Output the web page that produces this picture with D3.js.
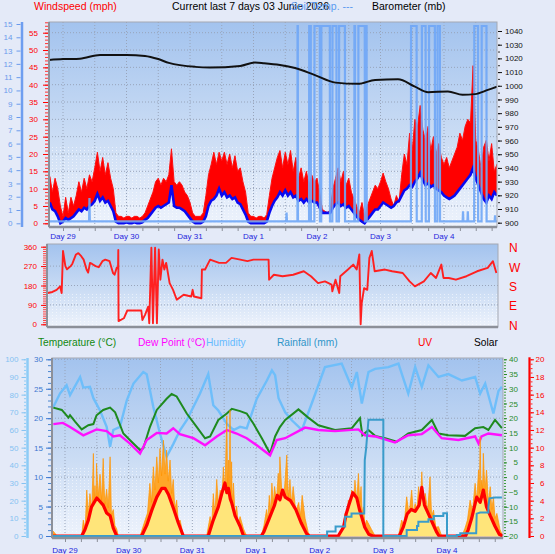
<!DOCTYPE html>
<html>
<head>
<meta charset="utf-8">
<script src="https://cdn.jsdelivr.net/npm/d3@7"></script>
<style>
  body { margin: 0; background: #E4EAF8; }
  svg { display: block; font-family: "Liberation Sans", Arial, sans-serif; }
</style>
</head>
<body>
<svg id="chart" width="555" height="554"></svg>
<script>
// ---- data (hours counted from Day 29 00:00) ----
const dayLabels = ["Day 29", "Day 30", "Day 31", "Day 1", "Day 2", "Day 3", "Day 4"];
const dayHours = [0, 24, 48, 72, 96, 120, 144];

// wind, one sample per hour starting at hour -5
const windStart = -5;
const gustMph = [
  13.5, 9, 13, 10, 5, 2, 7.5, 3, 7.5, 5,
  8, 12, 9, 13, 10, 14, 12, 16, 20.5, 15,
  19, 14, 17.5, 13, 10, 3, 2, 2, 1.5, 2,
  2, 1.5, 2, 2, 1.5, 2, 3, 5, 7, 9,
  12, 13, 11, 13, 12, 14, 21.5, 12, 11, 12,
  11, 9, 8, 6, 3, 2, 2, 2, 3, 8,
  14, 17, 20.5, 17, 20.5, 18, 20.5, 17, 20, 16,
  19.5, 15, 16, 12, 9, 3, 2, 2, 1.5, 2,
  2, 1.5, 2.5, 8, 13, 16, 19, 21, 16, 20.5,
  17, 21, 15, 19, 13, 16, 12, 15, 11, 14,
  12, 13, 9, 4, 3.5, 3, 4, 10, 13, 16,
  12, 15, 11, 13, 9, 7, 5, 3, 6, 2,
  5, 7, 9, 11, 10, 12, 14.5, 12, 10, 7,
  5, 8, 6, 14, 20, 17, 26, 21, 30, 28,
  34, 27, 24, 28, 21, 25, 20, 23, 19, 17,
  19, 16, 18, 20, 22, 26, 24, 28, 30, 29,
  45.5, 24, 21, 16, 22, 24, 18, 23, 15, 17
];
const avgMph = [
  6, 4, 3.5, 2, 0, 0.5, 1.5, 1, 1.5, 2,
  3, 4, 3.5, 4.5, 4, 5, 5.5, 6.5, 8.5, 6.5,
  7.5, 6, 6.5, 5, 3.5, 0.5, 0, 0, 0, 0.3,
  0, 0, 0.3, 0, 0, 0.3, 1, 1.5, 2.5, 3.5,
  4.5, 5, 4.5, 5, 5.5, 6, 11, 5, 4.5, 4.5,
  4, 3.5, 2.5, 1.5, 0.5, 0, 0, 0, 0.5, 2,
  5, 6.5, 7, 8, 10, 8, 9, 7.5, 8, 7,
  7.5, 6, 5.5, 4, 2.5, 0.5, 0, 0, 0, 0,
  0, 0, 0.5, 3, 5, 6.5, 7.5, 9, 8, 9.5,
  8, 9, 7.5, 8, 6.5, 7, 6, 7, 6, 6.5,
  6, 6, 4.5, 3, 3, 3, 3, 4.5, 5.5, 6,
  5, 5.5, 4.5, 5, 4, 3, 2, 1, 0.5, 0,
  1, 2, 3, 4, 4, 5, 6, 5.5, 5, 4.5,
  5, 6, 6.5, 8, 9.5, 10, 11, 10.5, 12, 13,
  14.5, 12.5, 11, 11.5, 10.5, 11, 10, 9.5, 9, 8,
  7.5, 7, 7.5, 8, 9, 10, 11, 12, 13, 14,
  16, 13, 11, 9, 7, 6, 8, 7, 9, 8
];
const baroMb = [
  [-5.3, 1018.9], [0, 1019.5], [6.4, 1019.8], [14, 1022.5], [24, 1022.5], [31, 1021.8],
  [36, 1019.5], [40, 1016.7], [50, 1013.8], [55.5, 1013.4], [67, 1014.5], [72.5, 1017],
  [76, 1016.5], [82, 1015.2], [87.7, 1013], [95, 1008], [103, 1002.3], [111.5, 1001.4],
  [118, 1004.3], [126.6, 1004.8], [133, 999.4], [138, 995.3], [145.5, 995.8], [151, 993.4],
  [155.7, 993.9], [160.6, 997], [164, 999.4]
];
// light blue series (left 0-15 axis): spells at the top, small blips otherwise
const soilBase = 0.15;
const soilTop = 14.85;
const soilHigh = [
  [88.6, 88.8], [93.0, 93.7], [95.0, 97.1], [97.6, 100.9], [101.8, 103.4], [104.3, 106.6],
  [110.1, 110.4], [111.6, 114.1], [114.5, 114.8], [131.5, 133.7], [135.6, 137.1], [138.3, 140.6],
  [141.5, 142.5], [155.4, 156.9], [158.2, 160.1]
];
const soilBlips = [[10, 1.9], [84.5, 0.8], [151.2, 0.9], [153, 0.9], [163.3, 0.6]];

// wind direction, degrees
const dirDeg = [
  [-5.8, 145], [-4, 150], [-2.4, 160], [-1.1, 176], [-0.5, 145], [0, 340], [0.9, 270], [1.5, 255],
  [2.9, 270], [3.5, 280], [4.9, 324], [5.8, 330], [6.9, 316], [7.8, 300], [8.9, 254], [9.5, 240],
  [10.2, 285], [11, 280], [12.3, 270], [13.5, 265], [14.9, 293], [16, 300], [17.6, 293], [18.9, 238],
  [19.5, 230], [20.3, 262], [20.8, 262], [20.9, 345], [21, 15], [23, 28], [24.3, 64], [29.6, 64],
  [30, 20], [31, 44], [32.2, 82], [32.6, 5], [33.4, 355], [34, 5], [34.8, 355], [35.5, 5],
  [36.2, 347], [36.8, 207], [37.6, 300], [38.3, 254], [39, 285], [40.3, 191], [41.6, 160], [43, 114],
  [45.6, 137], [48.5, 129], [49, 160], [49.5, 129], [52.3, 121], [52.5, 254], [53.7, 254], [55.6, 300],
  [59, 285], [61.6, 285], [63.7, 308], [67, 300], [69.7, 293], [72, 300], [77.7, 300], [77.9, 207],
  [79.7, 230], [83, 223], [87, 230], [91, 246], [93.7, 223], [96.4, 191], [99, 199], [101.5, 184],
  [101.8, 153], [103, 207], [104.4, 145], [104.8, 223], [107.7, 254], [109.7, 277], [111, 254], [112, 324],
  [112.5, 0], [112.9, 98], [113.8, 168], [115, 160], [115.8, 308], [116.7, 340], [117.8, 246], [121.7, 254],
  [124.4, 246], [128.4, 238], [131, 199], [133, 176], [136.4, 199], [139, 238], [141, 215], [143, 277],
  [143.8, 215], [145.8, 215], [148.5, 207], [152.5, 223], [156.5, 246], [160.5, 262], [162.5, 293], [163.8, 238]
];

// bottom panel
const tempC = [
  [-4.4, 21.8], [-1.2, 21.4], [1.3, 20.1], [1.9, 20.5], [3.8, 19.4], [6.3, 18.1], [8.8, 18.8], [10.7, 19],
  [11.9, 20.5], [14.4, 21.4], [17, 21.8], [18.9, 21], [22, 17.4], [25.1, 16], [28.3, 14.6], [29.5, 14.9],
  [32, 18.5], [34.6, 21.4], [38.3, 23.3], [40.2, 24.1], [42.1, 23.7], [45.9, 20.8], [49.7, 18.5], [52.8, 16.6],
  [54.7, 16.9], [57.8, 19.7], [61, 20.8], [62.9, 21.6], [66, 21.2], [68.5, 20.8], [71, 19.1], [74.2, 16.6],
  [77.3, 14], [79.2, 16.9], [81, 18.5], [83, 19.7], [88, 21.5], [91.7, 20.1], [95.5, 18.8], [101.8, 18],
  [108.1, 18.3], [111.2, 20], [112.1, 17.1], [114.4, 18], [116.9, 17], [120.7, 16.6], [125.1, 16], [129.4, 17.4],
  [134.5, 18], [138.3, 19.7], [140.8, 17.4], [144.5, 17.1], [150.8, 17], [154.6, 18.3], [157.7, 18.5], [159.6, 18],
  [162.1, 19.7], [164.7, 18.3]
];
const dewC = [
  [-4.4, 19], [-0.8, 19.2], [1.9, 18.5], [6.9, 17.1], [11.9, 18.1], [15.7, 17.8], [18.2, 16.9], [20.7, 17.1],
  [24.5, 15.7], [28.3, 14], [30.8, 16.3], [34.6, 17.5], [38.3, 17.4], [40.8, 18.3], [43.3, 17.3], [48.4, 16.6],
  [52.8, 15.4], [57.2, 16.9], [61, 18], [64.7, 17.4], [68.5, 16.6], [72.3, 15.4], [77.3, 13.7], [79.8, 16.3],
  [83, 16.6], [90.5, 18.4], [95.5, 18], [101.8, 17.8], [110.6, 18.1], [113.1, 17.1], [116.9, 16.9], [124.4, 15.9],
  [129.4, 17.1], [134.5, 17.3], [138.3, 18.5], [142, 16.6], [148.3, 16.3], [154.6, 16.9], [155.9, 15.7], [157, 16.9],
  [159.6, 17.4], [164.7, 17.1]
];
const humPct = [
  [-4.4, 73], [-1.9, 80.6], [0.6, 85.3], [1.9, 79.7], [5.7, 90], [6.9, 84], [9.4, 84.4], [10.7, 78],
  [13.2, 71], [15.7, 61.8], [17, 50.5], [18.2, 60], [20.7, 61.8], [23.3, 76.8], [25.8, 86.3], [29.5, 92.8],
  [30.8, 91.6], [33.3, 73], [35.8, 58], [38.3, 44.8], [40.8, 52], [43.4, 60], [45.9, 65.5], [50.9, 80.6],
  [54, 91.6], [55.9, 74], [57.8, 71], [61, 63.5], [63.5, 60], [66, 61.8], [68.5, 60.9], [72.3, 77.7],
  [76.1, 88], [78, 93.7], [79.2, 91], [80.5, 78], [83, 70], [85.5, 65.5], [89.3, 60], [93, 75],
  [98, 95.6], [104.3, 97.6], [108.1, 84], [110, 92.8], [111.9, 75], [114.4, 92.8], [116.9, 94.6], [121.9, 95.6],
  [125.7, 97.6], [129.4, 80.6], [132, 95.6], [134.5, 84.4], [137, 96.6], [140.8, 90], [144.5, 91.6], [149.6, 88],
  [154.6, 90], [156.5, 80.6], [158.4, 86.3], [161.5, 69.3], [163.4, 82], [164.7, 84.4]
];
const rainMm = [
  [-5, 0], [98.8, 0], [98.8, 1.5], [102, 1.5], [102, 3.2], [105.6, 3.2], [105.6, 6.5], [108, 6.5],
  [108, 7.6], [112.8, 7.6], [113, 25.8], [113.5, 29.7], [114.4, 39.5], [120, 39.5], [120, 0], [128.8, 0],
  [128.8, 2], [132.7, 2], [132.7, 3.4], [133.2, 3.4], [133.2, 4.8], [137, 4.8], [137, 5.7], [139, 5.7],
  [139, 6.8], [142.6, 6.8], [142.6, 7.7], [144, 7.7], [144, 0], [147.7, 0], [147.7, 0.3], [149, 0.3],
  [149, 0.9], [155, 0.9], [155.2, 7.6], [156.5, 8], [159.6, 8], [159.6, 9.9], [160, 12.8], [162.1, 13.1],
  [164.7, 13.1]
];
const uvIdx = [
  [-5, 0], [6.3, 0], [7.5, 0.7], [8.8, 1.8], [10, 3.3], [11, 3.8], [12, 4.3], [13.2, 3.9], [14.4, 3.5], [15.7, 2.6],
  [17, 2.3], [18.2, 0.9], [19.5, 0], [28.9, 0], [30.8, 1.2], [32.7, 2.9], [34.6, 4.4], [36.5, 5.4],
  [37.7, 5.4], [39, 4.7], [40.8, 3.2], [42.7, 1.5], [44.6, 0], [54, 0], [55.9, 1.8], [57.8, 3.3],
  [59.1, 4.8], [60.3, 6], [61, 4.9], [61.6, 5.4], [62.3, 4.2], [62.9, 3.7], [64.1, 2.3], [66, 1.1], [67.3, 0], [74, 0],
  [75, 0.5], [77, 2], [79, 3.5], [80, 4.6], [81, 4.1], [82, 5.2], [83, 4.4], [85, 4], [87, 3], [89, 1.5], [91, 0.3], [92, 0],
  [103, 0], [105, 1], [106, 2.5], [107, 3.5], [108.5, 4.9], [110, 4.3], [111, 3], [112, 2], [113, 1],
  [114.5, 0.2], [116, 0], [126, 0], [127.5, 1], [129, 2.5], [130.5, 3], [132, 2.8], [133.5, 3.5],
  [134.5, 5.5], [135.5, 3.5], [137, 2.5], [138.5, 1.5], [140, 0.5], [141, 0], [151, 0], [152, 0.7],
  [153.3, 2], [155.2, 4.4], [156.5, 3.8], [157.7, 5.2], [158.9, 3.3], [160.3, 2.3], [162.1, 1.1], [163.7, 0.2], [165, 0]
];
const solarWm2 = [
  [-5.3, 40], [-4, 20], [-3, 0], [6.3, 0], [6.9, 90], [7.6, 40], [8.2, 260], [8.8, 120], [9.4, 240],
  [10.1, 150], [10.7, 467], [11.0, 200], [11.3, 285], [11.6, 180], [11.9, 410], [12.5, 220], [13.2, 350],
  [13.8, 200], [14.4, 439], [15, 180], [15.7, 265], [16.3, 160], [17, 448], [17.5, 120], [18.2, 150],
  [18.8, 60], [19.5, 40], [20.1, 0],
  [28.3, 0], [30.2, 90], [31.1, 130], [32, 298], [32.6, 190], [33.3, 392], [33.9, 260], [34.6, 448],
  [35.2, 300], [35.8, 495], [36.4, 340], [37.1, 542], [37.7, 350], [38.3, 486], [38.9, 310], [39.6, 430],
  [40.2, 240], [40.8, 320], [41.4, 150], [42.1, 203], [42.7, 80], [43.4, 90], [44.6, 0],
  [53.4, 0], [54.7, 110], [55.3, 60], [55.9, 240], [56.5, 120], [57.2, 320], [57.8, 180], [58.5, 260],
  [59.1, 200], [59.7, 390], [60.3, 260], [61, 680], [61.3, 280], [61.6, 430], [61.9, 260], [62.2, 712],
  [62.5, 240], [62.8, 420], [63.1, 180], [63.5, 300], [64.1, 120], [64.7, 170], [65.3, 70], [66, 110],
  [67.3, 40], [68.5, 0],
  [74, 0], [75, 60], [76, 150], [76.5, 90], [77, 230], [77.5, 140], [78, 300], [78.5, 180], [79, 280],
  [79.7, 200], [80.4, 355], [80.7, 220], [81, 448], [81.9, 203], [82.7, 260], [83.6, 458], [84.2, 220],
  [84.8, 320], [85.4, 180], [86, 280], [87, 140], [88.1, 190], [88.7, 110], [89.4, 230], [90.5, 100],
  [91.7, 20], [92.5, 0],
  [104.3, 0], [105.6, 128], [106.2, 80], [106.8, 203], [107.4, 120], [108.1, 260], [108.7, 160],
  [109.3, 316], [110, 200], [110.6, 354], [111.1, 190], [111.6, 280], [112, 130], [112.5, 165],
  [113.1, 60], [113.7, 90], [115.6, 36], [116.9, 0],
  [125.7, 0], [126.9, 90], [127.8, 60], [128.8, 222], [129.7, 120], [130.7, 260], [131.3, 130],
  [132, 184], [132.6, 140], [133.3, 279], [133.9, 160], [134.5, 363], [135.1, 150], [135.8, 241],
  [136.7, 140], [137.6, 335], [138.2, 110], [138.9, 147], [139.8, 50], [140.8, 53], [142, 0],
  [149.6, 0], [150.8, 45], [151.7, 90], [152.7, 203], [153.6, 140], [154.6, 298], [155.2, 200],
  [155.9, 373], [156.2, 240], [156.5, 560], [156.8, 250], [157.1, 316], [157.4, 260], [157.7, 468],
  [158.3, 250], [158.9, 373], [159.6, 190], [160.3, 279], [160.9, 150], [161.5, 222], [162.1, 100],
  [162.8, 128], [164, 36], [165, 0]
];

// tick labels
const windTicks = [0, 5, 10, 15, 20, 25, 30, 35, 40, 45, 50, 55];
const soilTicks = [0, 1, 2, 3, 4, 5, 6, 7, 8, 9, 10, 11, 12, 13, 14, 15];
const baroTicks = [900, 910, 920, 930, 940, 950, 960, 970, 980, 990, 1000, 1010, 1020, 1030, 1040];
const dirTicks = [0, 90, 180, 270, 360];
const compass = ["N", "E", "S", "W", "N"];
const tempTicks = [0, 5, 10, 15, 20, 25, 30];
const humTicks = [0, 10, 20, 30, 40, 50, 60, 70, 80, 90, 100];
const greenTicks = [-20, -15, -10, -5, 0, 5, 10, 15, 20, 25, 30, 35, 40];
const uvTicks = [0, 2, 4, 6, 8, 10, 12, 14, 16, 18, 20];

// ---- layout ----
const P1 = { l: 49, r: 497, t: 22, b: 227 };
const P2 = { l: 47, r: 498, t: 244, b: 327 };
const P3 = { l: 52, r: 503, t: 358, b: 538 };
const FONT = '"Liberation Sans", Arial, sans-serif';

const x1 = d3.scaleLinear().domain([0, 144]).range([63, 444]);
const x3 = d3.scaleLinear().domain([0, 144]).range([65, 447]);
const windY = d3.scaleLinear().domain([0, 55]).range([223.3, 32.7]);
const soilY = d3.scaleLinear().domain([0, 15]).range([223.3, 24]);
const baroY = d3.scaleLinear().domain([900, 1040]).range([222.7, 31]);
const dirY = d3.scaleLinear().domain([0, 360]).range([324.3, 246.7]);
const tempY = d3.scaleLinear().domain([0, 30]).range([536, 359.3]);
const humY = d3.scaleLinear().domain([0, 100]).range([536, 359.3]);
const grnY = d3.scaleLinear().domain([-20, 40]).range([536, 359.3]);
const uvY = d3.scaleLinear().domain([0, 20]).range([536, 359.3]);
const rainY = d3.scaleLinear().domain([0, 60]).range([536, 359.3]);
const solarY = d3.scaleLinear().domain([0, 1000]).range([536, 359.3]);

const svg = d3.select("#chart");
const defs = svg.append("defs");

const grad = defs.append("linearGradient").attr("id", "plotBg")
  .attr("x1", 0).attr("y1", 0).attr("x2", 0).attr("y2", 1);
grad.append("stop").attr("offset", "0%").attr("stop-color", "#A3C3EE");
grad.append("stop").attr("offset", "55%").attr("stop-color", "#CADCF4");
grad.append("stop").attr("offset", "100%").attr("stop-color", "#EEF3FC");

const dots = defs.append("pattern").attr("id", "dots")
  .attr("width", 4).attr("height", 3).attr("patternUnits", "userSpaceOnUse");
dots.append("rect").attr("width", 1).attr("height", 1).attr("fill", "#fff");

// plot background + clip, returns group for data
function plotArea(id, P) {
  defs.append("clipPath").attr("id", id)
    .append("rect").attr("x", P.l).attr("y", P.t).attr("width", P.r - P.l).attr("height", P.b - P.t);
  svg.append("rect").attr("x", P.l).attr("y", P.t).attr("width", P.r - P.l).attr("height", P.b - P.t)
    .attr("fill", "url(#plotBg)");
  const h = P.b - P.t;
  svg.append("rect").attr("x", P.l).attr("y", P.t + h * 0.6).attr("width", P.r - P.l).attr("height", h * 0.4)
    .attr("fill", "url(#dots)").attr("opacity", 0.55);
  return svg.append("g").attr("clip-path", `url(#${id})`);
}

function gridLines(g, P, ys, xs) {
  g.selectAll(null).data(ys).join("line")
    .attr("x1", P.l).attr("x2", P.r).attr("y1", d => d).attr("y2", d => d)
    .attr("stroke", "#98A4BA").attr("stroke-width", 1).attr("stroke-dasharray", "1,2");
  g.selectAll(null).data(xs).join("line")
    .attr("x1", d => d).attr("x2", d => d).attr("y1", P.t).attr("y2", P.b)
    .attr("stroke", "#98A4BA").attr("stroke-width", 1).attr("stroke-dasharray", "1,2");
}

function frame(P) {
  svg.append("rect").attr("x", P.l).attr("y", P.t).attr("width", P.r - P.l).attr("height", P.b - P.t)
    .attr("fill", "none").attr("stroke", "#A4A8B2").attr("stroke-width", 1);
  svg.append("line").attr("x1", P.l).attr("x2", P.r).attr("y1", P.b).attr("y2", P.b)
    .attr("stroke", "#8C9099").attr("stroke-width", 2.5);
  svg.append("line").attr("x1", P.l).attr("x2", P.l).attr("y1", P.t).attr("y2", P.b)
    .attr("stroke", "#8C9099").attr("stroke-width", 2);
}

function styleAxis(g, color, size) {
  g.attr("font-size", size || 8).attr("font-family", FONT);
  g.select(".domain").remove();
  g.selectAll("line").attr("stroke", color);
  g.selectAll("text").attr("fill", color);
  return g;
}

function addAxis(gen, tx, ty, color, size) {
  return styleAxis(svg.append("g").attr("transform", `translate(${tx},${ty})`).call(gen), color, size);
}

const twelveHours = [0, 12, 24, 36, 48, 60, 72, 84, 96, 108, 120, 132, 144, 156];
const sixHours = d3.range(0, 168, 6);

// ================= panel 1: wind / barometer =================
const g1 = plotArea("clip1", P1);
gridLines(g1, P1, windTicks.slice(1).map(windY), twelveHours.map(x1));

const windData = gustMph.map((v, i) => ({ h: windStart + i, gust: v, avg: avgMph[i] }));

g1.append("path").datum(windData)
  .attr("d", d3.area().x(d => x1(d.h)).y0(d => windY(d.avg)).y1(d => windY(d.gust)))
  .attr("fill", "#FF0000").attr("stroke", "#FF1010").attr("stroke-width", 1);

g1.append("path").datum(windData)
  .attr("d", d3.line().x(d => x1(d.h)).y(d => windY(d.avg)))
  .attr("fill", "none").attr("stroke", "#0A0AF0").attr("stroke-width", 2.6);

// light blue spells
const soilPts = [[-6, soilBase]];
const ev = [];
soilHigh.forEach(([a, b]) => ev.push([a, soilBase], [a + 0.05, soilTop], [b - 0.05, soilTop], [b, soilBase]));
soilBlips.forEach(([h, v]) => ev.push([h - 0.15, soilBase], [h, v], [h + 0.15, soilBase]));
ev.sort((p, q) => p[0] - q[0]);
soilPts.push(...ev, [166, soilBase]);

g1.append("path").datum(soilPts)
  .attr("d", d3.line().x(d => x1(d[0])).y(d => soilY(d[1])))
  .attr("fill", "none").attr("stroke", "#6FA6F6").attr("stroke-width", 2.2).attr("opacity", 0.9);

g1.append("path").datum(baroMb)
  .attr("d", d3.line().curve(d3.curveMonotoneX).x(d => x1(d[0])).y(d => baroY(d[1])))
  .attr("fill", "none").attr("stroke", "#111").attr("stroke-width", 2);

frame(P1);

// axes panel 1
addAxis(d3.axisLeft(windY).tickValues(d3.range(0, 59, 1)).tickSize(3).tickFormat(""), P1.l - 1, 0, "#FF3030");
addAxis(d3.axisLeft(windY).tickValues(windTicks).tickSize(5).tickPadding(5), P1.l - 1, 0, "#FF0000");

svg.append("line").attr("x1", 22).attr("x2", 22).attr("y1", P1.t).attr("y2", P1.b)
  .attr("stroke", "#6E9EF0").attr("stroke-width", 2.5);
addAxis(d3.axisLeft(soilY).tickValues(soilTicks).tickSize(4).tickPadding(4), 20.5, 0, "#6A9AEC");

addAxis(d3.axisRight(baroY).tickValues(d3.range(900, 1041, 5)).tickSize(2).tickFormat(""), P1.r + 1, 0, "#333");
addAxis(d3.axisRight(baroY).tickValues(baroTicks).tickSize(4).tickPadding(3).tickFormat(d3.format("d")), P1.r + 1, 0, "#111");

addAxis(d3.axisBottom(x1).tickValues(sixHours).tickSize(3).tickFormat(""), 0, P1.b + 1, "#8C9099");
svg.append("g").selectAll("text").data(dayHours).join("text")
  .attr("x", d => x1(d)).attr("y", 239).attr("text-anchor", "middle")
  .attr("font-size", 8).attr("fill", "#1E1EDC").text((d, i) => dayLabels[i]);

// header texts
svg.append("text").attr("x", 34).attr("y", 10).attr("font-size", 10.5).attr("fill", "#FF0000").text("Windspeed (mph)");
svg.append("text").attr("x", 172).attr("y", 10).attr("font-size", 10.5).attr("fill", "#000").text("Current last 7 days 03 Junie 2026");
svg.append("text").attr("x", 353).attr("y", 10).attr("text-anchor", "end").attr("font-size", 10.5).attr("fill", "#5B9BF0").text("Soil Temp. ---");
svg.append("text").attr("x", 372).attr("y", 10).attr("font-size", 10.5).attr("fill", "#000").text("Barometer (mb)");

// ================= panel 2: wind direction =================
const g2 = plotArea("clip2", P2);
gridLines(g2, P2, dirTicks.slice(1, 4).map(dirY), []);

g2.append("path").datum(dirDeg)
  .attr("d", d3.line().x(d => x1(d[0])).y(d => dirY(d[1])))
  .attr("fill", "none").attr("stroke", "#FF2020").attr("stroke-width", 1.9).attr("stroke-linejoin", "round");

frame(P2);
addAxis(d3.axisLeft(dirY).tickValues(d3.range(0, 361, 10)).tickSize(3).tickFormat(""), P2.l - 1, 0, "#FF4040");
addAxis(d3.axisLeft(dirY).tickValues(dirTicks).tickSize(5).tickPadding(4), P2.l - 1, 0, "#FF0000");
svg.append("g").selectAll("text").data(dirTicks).join("text")
  .attr("x", 509).attr("y", d => dirY(d) + 5.5).attr("font-size", 12).attr("fill", "#FF0000")
  .text((d, i) => compass[i]);

// ================= panel 3: temperature etc =================
const g3 = plotArea("clip3", P3);
gridLines(g3, P3, tempTicks.slice(1).map(tempY), twelveHours.map(x3));

const lineOf = (yS) => d3.line().x(d => x3(d[0])).y(d => yS(d[1]));

g3.append("path").datum(humPct).attr("d", lineOf(humY))
  .attr("fill", "none").attr("stroke", "#6EBEFA").attr("stroke-width", 2.4);
g3.append("path").datum(tempC).attr("d", lineOf(tempY))
  .attr("fill", "none").attr("stroke", "#1E8A1E").attr("stroke-width", 2);
g3.append("path").datum(dewC).attr("d", lineOf(tempY))
  .attr("fill", "none").attr("stroke", "#FF10FF").attr("stroke-width", 2.4);

g3.append("path").datum(solarWm2)
  .attr("d", d3.area().x(d => x3(d[0])).y0(solarY(0)).y1(d => solarY(d[1])))
  .attr("fill", "#FFA628").attr("stroke", "#FF9400").attr("stroke-width", 0.7);

g3.append("path").datum(uvIdx)
  .attr("d", d3.area().x(d => x3(d[0])).y0(uvY(0)).y1(d => uvY(d[1])))
  .attr("fill", "#FFE57A");
g3.append("path").datum(uvIdx).attr("d", lineOf(uvY))
  .attr("fill", "none").attr("stroke", "#FF0000").attr("stroke-width", 3.2).attr("stroke-linejoin", "round");

g3.append("path").datum(rainMm).attr("d", lineOf(rainY))
  .attr("fill", "none").attr("stroke", "#3A9CCB").attr("stroke-width", 2);

frame(P3);

addAxis(d3.axisLeft(tempY).tickValues(d3.range(0, 31, 1)).tickSize(3).tickFormat(""), P3.l - 1, 0, "#4A86D0");
addAxis(d3.axisLeft(tempY).tickValues(tempTicks).tickSize(5).tickPadding(3), P3.l - 1, 0, "#3C78D0");

svg.append("line").attr("x1", 27.5).attr("x2", 27.5).attr("y1", P3.t).attr("y2", P3.b)
  .attr("stroke", "#8CCBF6").attr("stroke-width", 2.5);
addAxis(d3.axisLeft(humY).tickValues(d3.range(0, 101, 2)).tickSize(2).tickFormat(""), 26, 0, "#8CCBF6");
addAxis(d3.axisLeft(humY).tickValues(humTicks).tickSize(4).tickPadding(3), 25.5, 0, "#84C2F2");

addAxis(d3.axisRight(grnY).tickValues(d3.range(-20, 41, 1)).tickSize(2).tickFormat(""), P3.r + 1, 0, "#3A9A3A");
const gAx = addAxis(d3.axisRight(grnY).tickValues(greenTicks).tickSize(3).tickPadding(3), P3.r + 1, 0, "#2A8A2A");
gAx.selectAll("text").attr("text-anchor", "end").attr("x", 14);

svg.append("line").attr("x1", 529.5).attr("x2", 529.5).attr("y1", uvY(20) - 2).attr("y2", uvY(0) + 2)
  .attr("stroke", "#FF0000").attr("stroke-width", 2.2);
addAxis(d3.axisRight(uvY).tickValues(d3.range(0, 20.5, 0.5)).tickSize(2).tickFormat(""), 530.5, 0, "#FF2020");
const uAx = addAxis(d3.axisRight(uvY).tickValues(uvTicks).tickSize(3.5).tickPadding(3), 530.5, 0, "#FF0000");
uAx.selectAll("text").attr("text-anchor", "end").attr("x", 14);

addAxis(d3.axisBottom(x3).tickValues(sixHours).tickSize(3).tickFormat(""), 0, P3.b + 1, "#8C9099");
svg.append("g").selectAll("text").data(dayHours).join("text")
  .attr("x", d => x3(d)).attr("y", 553).attr("text-anchor", "middle")
  .attr("font-size", 8).attr("fill", "#1E1EDC").text((d, i) => dayLabels[i]);

// legend row of bottom panel
const legend = [
  ["Temperature (°C)", 38, "#118811"],
  ["Dew Point (°C)", 138, "#FF00FF"],
  ["Humidity", 206, "#66BBFF"],
  ["Rainfall (mm)", 277, "#2F95C8"],
  ["UV", 418, "#FF0000"],
  ["Solar", 474, "#000000"]
];
svg.append("g").selectAll("text").data(legend).join("text")
  .attr("x", d => d[1]).attr("y", 346).attr("font-size", 10.2).attr("fill", d => d[2]).text(d => d[0]);
</script>
</body>
</html>
